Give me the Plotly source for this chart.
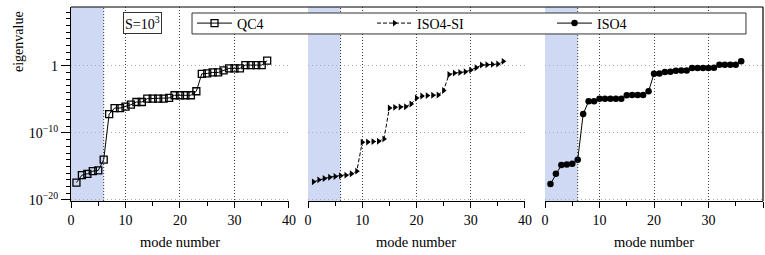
import plotly.graph_objects as go

modes = list(range(1, 37))

# log10 of eigenvalues
qc4_log = [-17.4, -16.3, -16.1, -15.7, -15.6, -14.0, -7.2, -6.3, -6.3, -6.1,
           -5.8, -5.4, -5.4, -4.9, -4.9, -4.9, -4.9, -4.8, -4.4, -4.4,
           -4.4, -4.4, -3.8, -1.2, -1.15, -1.0, -1.0, -0.7, -0.4, -0.4,
           -0.4, 0.1, 0.1, 0.1, 0.1, 0.75]
iso4si_log = [-17.3, -17.0, -16.8, -16.6, -16.5, -16.4, -16.3, -16.1, -15.7, -11.4,
              -11.35, -11.3, -11.25, -10.9, -6.3, -6.2, -6.15, -6.1, -5.7, -4.8,
              -4.5, -4.45, -4.4, -4.35, -3.7, -1.3, -1.1, -1.0, -0.9, -0.65,
              -0.3, 0.1, 0.15, 0.2, 0.25, 0.65]
iso4_log = [-17.6, -16.1, -14.8, -14.7, -14.6, -14.0, -7.2, -5.3, -5.3, -4.9,
            -4.9, -4.9, -4.9, -4.9, -4.4, -4.35, -4.35, -4.35, -3.8, -1.2,
            -1.15, -0.95, -0.9, -0.75, -0.72, -0.7, -0.35, -0.33, -0.33, -0.33,
            -0.3, 0.15, 0.15, 0.15, 0.15, 0.65]

qc4 = [10 ** v for v in qc4_log]
iso4si = [10 ** v for v in iso4si_log]
iso4 = [10 ** v for v in iso4_log]

x_ticks = [0, 10, 20, 30, 40]
y_tickvals = [1e-20, 1e-10, 1]
y_ticktext = ["10<sup>\u221220</sup>", "10<sup>\u221210</sup>", "1"]
y_minor = [10 ** k for k in range(-20, 9)]
rigid_modes = 6

FONT = "Liberation Serif, Times New Roman, serif"
BLUE = "#cfd9f4"

fig = go.Figure()

fig.add_trace(go.Scatter(
    x=modes, y=qc4, mode="lines+markers", name="QC4", xaxis="x", yaxis="y",
    line=dict(color="black", width=1),
    marker=dict(symbol="square-open", size=7, color="black", line=dict(width=1.3)),
))
fig.add_trace(go.Scatter(
    x=modes, y=iso4si, mode="lines+markers", name="ISO4-SI", xaxis="x2", yaxis="y2",
    line=dict(color="black", width=1, dash="4px,2px"),
    marker=dict(symbol="triangle-right", size=6, color="black"),
))
fig.add_trace(go.Scatter(
    x=modes, y=iso4, mode="lines+markers", name="ISO4", xaxis="x3", yaxis="y3",
    line=dict(color="black", width=1),
    marker=dict(symbol="circle", size=6.5, color="black"),
))

domains = [[0, 0.315], [0.3425, 0.656], [0.685, 1.0]]
yr = [-20.15, 8.75]

for i, dom in enumerate(domains):
    sfx = "" if i == 0 else str(i + 1)
    fig.layout["xaxis" + sfx] = dict(
        domain=dom, range=[0, 40], anchor="y" + sfx,
        tickmode="array", tickvals=x_ticks,
        ticks="outside", ticklen=6, tickwidth=1, tickcolor="black",
        showline=True, linecolor="black", linewidth=1.2,
        showgrid=True, gridcolor="#444444", griddash="1px,2px", gridwidth=1,
        zeroline=False,
        minor=dict(tickmode="array", tickvals=[5, 15, 25, 35], ticks="outside",
                   ticklen=4, tickcolor="black", showgrid=False),
        tickfont=dict(family=FONT, size=14, color="black"),
    )
    ydict = dict(
        type="log", range=yr, anchor="x" + sfx, domain=[0, 1],
        tickmode="array", tickvals=y_tickvals, ticktext=y_ticktext,
        showgrid=True, gridcolor="#aaaaaa", griddash="1px,3px", gridwidth=1,
        zeroline=False,
        tickfont=dict(family=FONT, size=14, color="black"),
    )
    if i == 0:
        ydict.update(
            ticks="outside", ticklen=9, tickwidth=1, tickcolor="black",
            showline=True, linecolor="black", linewidth=1.2,
            minor=dict(tickmode="array", tickvals=y_minor, ticks="outside",
                       ticklen=4, tickcolor="black", showgrid=False),
        )
    else:
        ydict.update(showticklabels=False, ticks="", showline=False)
    fig.layout["yaxis" + sfx] = ydict

shapes = []
for i in range(3):
    sfx = "" if i == 0 else str(i + 1)
    shapes.append(dict(type="rect", xref="x" + sfx, yref="y" + sfx + " domain",
                       x0=0, x1=rigid_modes, y0=0, y1=1,
                       fillcolor=BLUE, line=dict(width=0), layer="below"))
    shapes.append(dict(type="line", xref="x" + sfx, yref="y" + sfx + " domain",
                       x0=rigid_modes, x1=rigid_modes, y0=0, y1=1,
                       line=dict(color="#333333", width=1, dash="1px,2px"), layer="above"))
# outer frame: top and right
shapes.append(dict(type="line", xref="paper", yref="paper", x0=0, x1=1, y0=1, y1=1,
                   line=dict(color="black", width=1.2)))
shapes.append(dict(type="line", xref="paper", yref="paper", x0=1, x1=1, y0=0, y1=1,
                   line=dict(color="black", width=1.2)))
# legend frame
shapes.append(dict(type="rect", xref="paper", yref="paper",
                   x0=0.1749, x1=0.9754, y0=0.861, y1=0.969,
                   fillcolor="white", line=dict(color="#333333", width=1), layer="above"))

annotations = [
    dict(text="S=10<sup>3</sup>", xref="paper", yref="paper", x=0.104, y=0.915,
         xanchor="center", yanchor="middle", showarrow=False,
         font=dict(family=FONT, size=14, color="black"),
         bordercolor="#333333", borderwidth=1, borderpad=1, bgcolor="white"),
    dict(text="eigenvalue", xref="paper", yref="paper", x=-0.075, y=0.82,
         xanchor="center", yanchor="middle", textangle=-90, showarrow=False,
         font=dict(family=FONT, size=14, color="black")),
]
for i in range(3):
    sfx = "" if i == 0 else str(i + 1)
    annotations.append(dict(text="mode number", xref="x" + sfx + " domain", yref="paper",
                            x=0.5, y=-0.211, xanchor="center", yanchor="middle",
                            showarrow=False,
                            font=dict(family=FONT, size=14.5, color="black")))

fig.update_layout(
    width=765, height=255,
    margin=dict(l=71, r=2, t=7, b=54, autoexpand=False),
    paper_bgcolor="white", plot_bgcolor="white",
    shapes=shapes, annotations=annotations,
    showlegend=True,
    legend=dict(orientation="h", x=0.1749, y=0.915, xanchor="left", yanchor="middle",
                bgcolor="rgba(0,0,0,0)", borderwidth=0,
                entrywidth=130, entrywidthmode="pixels",
                font=dict(family=FONT, size=14, color="black"),
                itemwidth=35, tracegroupgap=0),
    font=dict(family=FONT, size=14, color="black"),
)

fig.write_html("out.html", config={"displayModeBar": False},
               post_script="document.body.style.margin='0px';document.body.style.padding='0px';")
